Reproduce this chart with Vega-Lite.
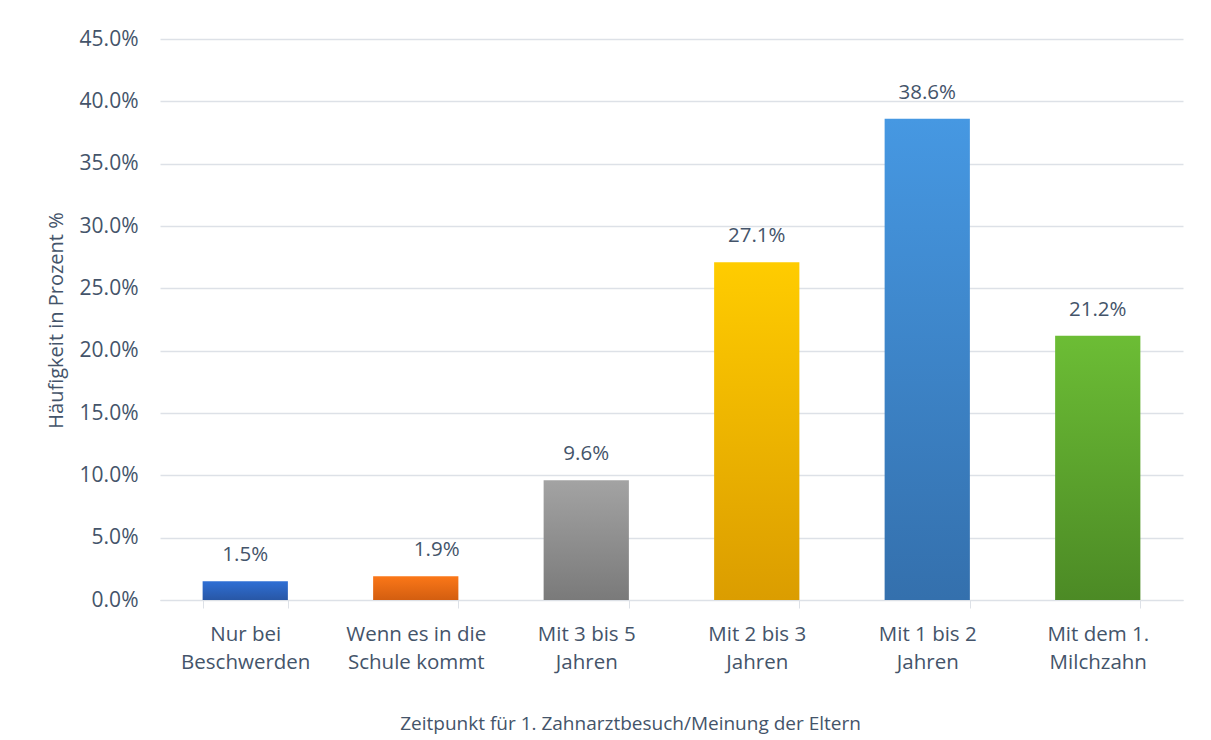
{
  "$schema": "https://vega.github.io/schema/vega-lite/v6.json",
  "width": 1023,
  "height": 561,
  "autosize": {"type": "none"},
  "padding": {"left": 160, "top": 39, "right": 28, "bottom": 140},
  "background": "white",
  "config": {"font": "Open Sans", "view": {"stroke": null}},
  "data": {
    "values": [
      {"Kategorie": "Nur bei Beschwerden", "Anteil": 0.015},
      {"Kategorie": "Wenn es in die Schule kommt", "Anteil": 0.019},
      {"Kategorie": "Mit 3 bis 5 Jahren", "Anteil": 0.096},
      {"Kategorie": "Mit 2 bis 3 Jahren", "Anteil": 0.271},
      {"Kategorie": "Mit 1 bis 2 Jahren", "Anteil": 0.386},
      {"Kategorie": "Mit dem 1. Milchzahn", "Anteil": 0.212}
    ]
  },
  "encoding": {
    "x": {
      "field": "Kategorie",
      "type": "nominal",
      "sort": null,
      "scale": {
        "domain": ["Nur bei Beschwerden", "Wenn es in die Schule kommt", "Mit 3 bis 5 Jahren", "Mit 2 bis 3 Jahren", "Mit 1 bis 2 Jahren", "Mit dem 1. Milchzahn"],
        "paddingInner": 0.5,
        "paddingOuter": 0.25
      },
      "axis": {
        "title": "Zeitpunkt für 1. Zahnarztbesuch/Meinung der Eltern",
        "titleFontSize": 19,
        "titleFontWeight": "normal",
        "titleColor": "#44546a",
        "titleX": 470,
        "titleY": 123,
        "titleBaseline": "middle",
        "labelAngle": 0,
        "labelFontSize": 20.5,
        "labelColor": "#44546a",
        "labelLineHeight": 28,
        "labelPadding": 16,
        "labelLimit": 0,
        "labelExpr": "datum.label == 'Nur bei Beschwerden' ? ['Nur bei', 'Beschwerden'] : datum.label == 'Wenn es in die Schule kommt' ? ['Wenn es in die', 'Schule kommt'] : datum.label == 'Mit dem 1. Milchzahn' ? ['Mit dem 1.', 'Milchzahn'] : (isString(datum.label) && indexof(datum.label, 'Jahren') > 0) ? [slice(datum.label, 0, 11), 'Jahren'] : ''",
        "tickBand": "extent",
        "ticks": true,
        "tickSize": 8,
        "tickColor": "#dde1e7",
        "domainColor": "#dde1e7",
        "grid": false
      }
    },
    "y": {
      "field": "Anteil",
      "type": "quantitative",
      "scale": {"domain": [0, 0.45]},
      "axis": {
        "title": "Häufigkeit in Prozent %",
        "titleFontSize": 20,
        "titleFontWeight": "normal",
        "titleColor": "#44546a",
        "titleX": -94,
        "titleY": 281,
        "format": ".1%",
        "values": [0, 0.05, 0.1, 0.15, 0.2, 0.25, 0.3, 0.35, 0.4, 0.45],
        "labelFontSize": 21,
        "labelColor": "#44546a",
        "labelPadding": 22,
        "ticks": false,
        "domain": false,
        "grid": true,
        "gridColor": "#dde1e7",
        "gridWidth": 1.3
      }
    }
  },
  "layer": [
    {
      "transform": [{"filter": "datum.Kategorie == 'Nur bei Beschwerden'"}],
      "mark": {"type": "bar", "color": {"gradient": "linear", "x1": 0, "y1": 0, "x2": 0, "y2": 1, "stops": [{"offset": 0, "color": "#2f6fd5"}, {"offset": 1, "color": "#2857a6"}]}}
    },
    {
      "transform": [{"filter": "datum.Kategorie == 'Wenn es in die Schule kommt'"}],
      "mark": {"type": "bar", "color": {"gradient": "linear", "x1": 0, "y1": 0, "x2": 0, "y2": 1, "stops": [{"offset": 0, "color": "#fb7718"}, {"offset": 1, "color": "#d35e10"}]}}
    },
    {
      "transform": [{"filter": "datum.Kategorie == 'Mit 3 bis 5 Jahren'"}],
      "mark": {"type": "bar", "color": {"gradient": "linear", "x1": 0, "y1": 0, "x2": 0, "y2": 1, "stops": [{"offset": 0, "color": "#a3a3a3"}, {"offset": 1, "color": "#7a7a7a"}]}}
    },
    {
      "transform": [{"filter": "datum.Kategorie == 'Mit 2 bis 3 Jahren'"}],
      "mark": {"type": "bar", "color": {"gradient": "linear", "x1": 0, "y1": 0, "x2": 0, "y2": 1, "stops": [{"offset": 0, "color": "#ffcc00"}, {"offset": 1, "color": "#db9d00"}]}}
    },
    {
      "transform": [{"filter": "datum.Kategorie == 'Mit 1 bis 2 Jahren'"}],
      "mark": {"type": "bar", "color": {"gradient": "linear", "x1": 0, "y1": 0, "x2": 0, "y2": 1, "stops": [{"offset": 0, "color": "#4698e2"}, {"offset": 1, "color": "#3470ad"}]}}
    },
    {
      "transform": [{"filter": "datum.Kategorie == 'Mit dem 1. Milchzahn'"}],
      "mark": {"type": "bar", "color": {"gradient": "linear", "x1": 0, "y1": 0, "x2": 0, "y2": 1, "stops": [{"offset": 0, "color": "#6cbd35"}, {"offset": 1, "color": "#4c8a25"}]}}
    },
    {
      "mark": {
        "type": "text",
        "fontSize": 20.5,
        "color": "#44546a",
        "baseline": "alphabetic",
        "dy": -20,
        "dx": {"expr": "datum.Kategorie == 'Wenn es in die Schule kommt' ? 21 : 0"}
      },
      "encoding": {
        "text": {"field": "Anteil", "type": "quantitative", "format": ".1%"}
      }
    }
  ]
}
